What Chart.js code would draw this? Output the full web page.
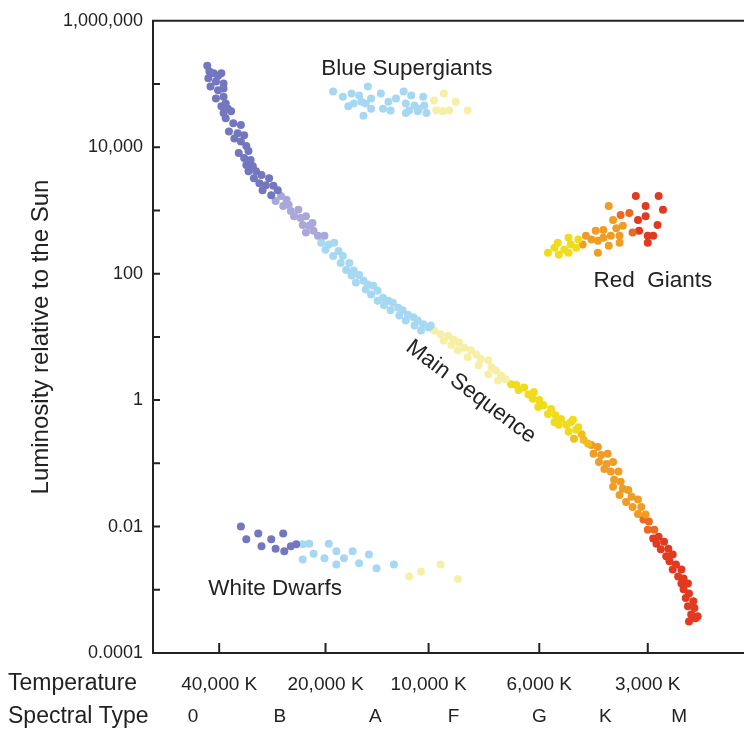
<!DOCTYPE html>
<html>
<head>
<meta charset="utf-8">
<script src="https://cdn.jsdelivr.net/npm/chart.js@4.4.1/dist/chart.umd.min.js"></script>
<style>
  html, body { margin: 0; padding: 0; background: #fff; }
</style>
</head>
<body>
<canvas id="hr" width="744" height="731"></canvas>
<script>
// x = step along the temperature axis (40,000 K = 0, one step per label)
// y = log10 of luminosity relative to the Sun
const TEMP_POS = [0.02, 1.0, 1.95, 2.97, 3.97];
const TEMP_LABELS = ['40,000 K', '20,000 K', '10,000 K', '6,000 K', '3,000 K'];
const SPECTRAL_POS = [-0.22, 0.58, 1.46, 2.18, 2.97, 3.58, 4.26];
const SPECTRAL_LABELS = ['0', 'B', 'A', 'F', 'G', 'K', 'M'];
const LUM_TICKS = [1e-4, 1e-3, 1e-2, 1e-1, 1, 10, 100, 1e3, 1e4, 1e5, 1e6];
const LUM_LABELS = ['0.0001', '', '0.01', '', '1', '', '100', '', '10,000', '', '1,000,000'];

// main sequence, hot to cool
const MS_O = [[-0.09,5.29],[-0.07,5.20],[-0.08,5.09],[-0.03,5.17],[0.01,5.13],[0.04,5.17],[-0.01,5.04],[0.06,5.01],[-0.06,4.96],[0.01,4.90],[0.06,4.93],[-0.01,4.77],[0.06,4.80],[0.08,4.69],[0.04,4.65],[0.10,4.61],[0.06,4.54],[0.13,4.57],[0.08,4.46],[0.15,4.38],[0.22,4.35],[0.11,4.25],[0.19,4.22],[0.25,4.19],[0.16,4.14],[0.22,4.09],[0.27,4.02],[0.20,3.91],[0.29,3.94],[0.25,3.83],[0.31,3.80],[0.27,3.72],[0.33,3.70],[0.29,3.62],[0.36,3.62],[0.34,3.51],[0.41,3.56],[0.48,3.51],[0.39,3.43],[0.45,3.40],[0.52,3.39],[0.42,3.32],[0.50,3.24],[0.56,3.32]];
const MS_B = [[0.59,3.23],[0.54,3.15],[0.64,3.17],[0.61,3.07],[0.66,3.09],[0.68,2.99],[0.75,3.01],[0.71,2.91],[0.77,2.88],[0.82,2.91],[0.79,2.77],[0.85,2.76],[0.88,2.80],[0.82,2.65],[0.89,2.68],[0.93,2.60],[0.99,2.60]];
const MS_A = [[0.96,2.49],[1.03,2.46],[1.08,2.49],[1.00,2.38],[1.12,2.36],[1.07,2.28],[1.16,2.28],[1.14,2.17],[1.22,2.17],[1.19,2.06],[1.26,2.05],[1.31,1.98],[1.24,1.97],[1.35,1.89],[1.28,1.86],[1.39,1.83],[1.44,1.81],[1.37,1.75],[1.48,1.73],[1.42,1.67],[1.53,1.62],[1.48,1.57],[1.58,1.57],[1.62,1.54],[1.54,1.50],[1.67,1.46],[1.60,1.42],[1.71,1.42],[1.76,1.35],[1.68,1.34],[1.81,1.31],[1.74,1.26],[1.85,1.26],[1.90,1.20],[1.82,1.18],[1.95,1.15],[1.88,1.10],[1.97,1.18]];
const MS_F = [[2.00,1.10],[2.06,1.04],[2.13,1.02],[2.09,0.94],[2.18,0.96],[2.23,0.91],[2.16,0.87],[2.28,0.83],[2.22,0.79],[2.34,0.79],[2.39,0.72],[2.31,0.68],[2.43,0.65],[2.50,0.63],[2.41,0.55],[2.53,0.52],[2.57,0.47],[2.50,0.41],[2.62,0.39],[2.66,0.33],[2.59,0.31]];
const MS_G = [[2.71,0.25],[2.76,0.24],[2.78,0.16],[2.83,0.20],[2.87,0.09],[2.92,0.13],[2.91,0.02],[2.97,0.00],[3.01,-0.08],[2.96,-0.11],[3.08,-0.14],[3.05,-0.22],[3.12,-0.24],[3.17,-0.30],[3.11,-0.35],[3.22,-0.39],[3.26,-0.35],[3.24,-0.50],[3.31,-0.47],[3.15,-0.39],[3.28,-0.31],[3.33,-0.43]];
const MS_GK = [[3.36,-0.54],[3.29,-0.61],[3.38,-0.63],[3.42,-0.69]];
const MS_K = [[3.45,-0.71],[3.51,-0.74],[3.47,-0.85],[3.54,-0.87],[3.60,-0.85],[3.52,-0.98],[3.59,-1.01],[3.65,-0.98],[3.57,-1.09],[3.63,-1.13],[3.70,-1.13],[3.66,-1.26],[3.72,-1.29],[3.65,-1.37],[3.74,-1.40],[3.79,-1.42],[3.71,-1.50],[3.82,-1.53],[3.77,-1.61],[3.88,-1.57],[3.83,-1.69],[3.91,-1.69],[3.88,-1.80],[3.95,-1.81]];
const MS_KM = [[3.93,-1.89],[3.98,-1.92],[3.97,-2.05],[4.03,-2.05]];
const MS_M = [[4.02,-2.19],[4.07,-2.16],[4.05,-2.27],[4.12,-2.24],[4.09,-2.36],[4.16,-2.35],[4.14,-2.47],[4.20,-2.44],[4.17,-2.55],[4.23,-2.60],[4.20,-2.68],[4.28,-2.68],[4.25,-2.79],[4.30,-2.82],[4.28,-2.90],[4.34,-2.90],[4.30,-2.99],[4.35,-3.06],[4.32,-3.13],[4.39,-3.18],[4.34,-3.26],[4.40,-3.29],[4.37,-3.39],[4.41,-3.45],[4.35,-3.50],[4.43,-3.42]];

// blue supergiants
const SG_A = [[1.07,4.88],[1.16,4.80],[1.24,4.85],[1.21,4.65],[1.26,4.69],[1.31,4.82],[1.33,4.72],[1.37,4.69],[1.42,4.77],[1.39,4.96],[1.42,4.61],[1.35,4.50],[1.51,4.85],[1.53,4.61],[1.58,4.72],[1.60,4.58],[1.65,4.77],[1.72,4.88],[1.74,4.69],[1.79,4.82],[1.77,4.58],[1.82,4.66],[1.86,4.61],[1.90,4.80],[1.91,4.66],[1.93,4.54],[1.85,4.57],[1.74,4.54]];
const SG_F = [[2.00,4.74],[2.02,4.58],[2.09,4.85],[2.08,4.57],[2.14,4.58],[2.20,4.72],[2.31,4.58]];

// red giants
const RG_G = [[3.05,2.33],[3.11,2.41],[3.14,2.49],[3.15,2.30],[3.20,2.38],[3.24,2.57],[3.26,2.46],[3.24,2.33],[3.33,2.54],[3.31,2.41]];
const RG_K = [[3.37,2.46],[3.40,2.60],[3.45,2.54],[3.49,2.68],[3.51,2.52],[3.51,2.33],[3.56,2.69],[3.56,2.57],[3.61,3.07],[3.61,2.44],[3.63,2.60],[3.65,2.85],[3.68,2.72],[3.71,2.60],[3.71,2.49],[3.74,2.76]];
const RG_KM = [[3.72,2.93],[3.80,2.96],[3.83,2.65]];
const RG_M = [[3.86,3.23],[3.88,2.85],[3.89,2.68],[3.95,3.07],[3.95,2.91],[3.97,2.60],[3.97,2.49],[4.02,2.60],[4.06,2.77],[4.07,3.23],[4.11,3.01]];

// white dwarfs
const WD_O = [[0.22,-2.00],[0.27,-2.20],[0.38,-2.11],[0.41,-2.31],[0.50,-2.20],[0.54,-2.35],[0.61,-2.11],[0.62,-2.39],[0.68,-2.31],[0.73,-2.28]];
const WD_A = [[0.79,-2.28],[0.85,-2.27],[0.79,-2.52],[0.89,-2.43],[0.99,-2.50],[1.03,-2.27],[1.10,-2.39],[1.17,-2.50],[1.25,-2.39],[1.10,-2.60],[1.31,-2.58],[1.40,-2.44],[1.47,-2.66],[1.63,-2.60]];
const WD_F = [[1.77,-2.79],[1.88,-2.71],[2.06,-2.60],[2.22,-2.83]];

// region names: text, x, log10 L, rotation (deg)
const NOTES = [
    ['Blue Supergiants', 0.96, 5.24, 0],
    ['Red  Giants', 3.47, 1.89, 0],
    ['White Dwarfs', -0.08, -2.98, 0],
    ['Main Sequence', 2.34, 0.13, 37],
];

const FONT = "'Liberation Sans', Arial, Helvetica, sans-serif";
const INK = '#222';

const toPoints = arr => arr.map(([t, l]) => ({ x: t, y: Math.pow(10, l) }));

function group(label, color, arr) {
    return {
        label,
        data: toPoints(arr),
        backgroundColor: color,
        borderWidth: 0,
        pointRadius: 4,
        pointHoverRadius: 4,
    };
}

// frame, inward ticks and the extra text rows
const hrDecor = {
    id: 'hrDecor',
    beforeDatasetsDraw(chart) {
        const { ctx, chartArea: a, scales: { x, y } } = chart;
        const right = chart.width;
        ctx.save();
        ctx.strokeStyle = INK;
        ctx.lineWidth = 2;
        ctx.beginPath();
        ctx.moveTo(right, a.top);
        ctx.lineTo(a.left, a.top);
        ctx.lineTo(a.left, a.bottom);
        ctx.lineTo(right, a.bottom);
        LUM_TICKS.forEach(v => {
            const py = y.getPixelForValue(v);
            ctx.moveTo(a.left, py);
            ctx.lineTo(a.left + 7, py);
        });
        TEMP_POS.forEach(v => {
            const px = x.getPixelForValue(v);
            ctx.moveTo(px, a.bottom);
            ctx.lineTo(px, a.bottom - 10);
        });
        ctx.stroke();
        ctx.restore();
    },
    afterDatasetsDraw(chart) {
        const { ctx, chartArea: a, scales: { x, y } } = chart;
        ctx.save();
        ctx.fillStyle = INK;
        ctx.textBaseline = 'middle';

        // spectral type row
        ctx.font = `19px ${FONT}`;
        ctx.textAlign = 'center';
        SPECTRAL_POS.forEach((v, i) => {
            ctx.fillText(SPECTRAL_LABELS[i], x.getPixelForValue(v), 717);
        });

        // row titles
        ctx.font = `23px ${FONT}`;
        ctx.textAlign = 'left';
        ctx.fillText('Temperature', 8, 684);
        ctx.fillText('Spectral Type', 8, 717);

        // y axis title
        ctx.save();
        ctx.translate(41, 337);
        ctx.rotate(-Math.PI / 2);
        ctx.textAlign = 'center';
        ctx.font = `24px ${FONT}`;
        ctx.fillText('Luminosity relative to the Sun', 0, 0);
        ctx.restore();

        // region names
        ctx.font = `22.5px ${FONT}`;
        NOTES.forEach(([text, t, l, rot]) => {
            const px = x.getPixelForValue(t);
            const py = y.getPixelForValue(Math.pow(10, l));
            ctx.save();
            ctx.translate(px, py);
            ctx.rotate(rot * Math.PI / 180);
            ctx.textAlign = rot ? 'center' : 'left';
            ctx.fillText(text, 0, 0);
            ctx.restore();
        });
        ctx.restore();
    }
};

new Chart(document.getElementById('hr'), {
    type: 'scatter',
    data: {
        datasets: [
            group('O', '#7377bf', [...MS_O, ...WD_O]),
            group('B', '#aaa8d8', MS_B),
            group('A', '#a7d8f2', [...MS_A, ...SG_A, ...WD_A]),
            group('F', '#f6f0a6', [...MS_F, ...SG_F, ...WD_F]),
            group('G', '#f1dc1c', [...MS_G, ...RG_G]),
            group('G-K', '#f3bd22', MS_GK),
            group('K', '#ef9d25', [...MS_K, ...RG_K]),
            group('K-M', '#ea6a24', [...MS_KM, ...RG_KM]),
            group('M', '#e23a20', [...MS_M, ...RG_M]),
        ]
    },
    options: {
        responsive: false,
        animation: false,
        events: [],
        layout: { padding: { top: 17, right: 0, left: 0, bottom: 0 } },
        plugins: {
            legend: { display: false },
            tooltip: { enabled: false },
        },
        scales: {
            x: {
                type: 'linear',
                min: -0.59,
                max: 4.82,
                grid: { display: false, drawTicks: false },
                border: { display: false },
                afterBuildTicks: s => { s.ticks = TEMP_POS.map(v => ({ value: v })); },
                afterFit: s => { s.height = 78; },
                ticks: {
                    autoSkip: false,
                    maxRotation: 0,
                    padding: 20,
                    color: INK,
                    font: { family: FONT, size: 19 },
                    callback: (v, i) => TEMP_LABELS[i],
                }
            },
            y: {
                type: 'logarithmic',
                min: 1e-4,
                max: 1e6,
                grid: { display: false, drawTicks: false },
                border: { display: false },
                afterBuildTicks: s => { s.ticks = LUM_TICKS.map(v => ({ value: v })); },
                afterFit: s => { s.width = 153; },
                ticks: {
                    autoSkip: false,
                    padding: 10,
                    color: INK,
                    font: { family: FONT, size: 18 },
                    callback: (v, i) => LUM_LABELS[i],
                }
            }
        }
    },
    plugins: [hrDecor]
});
</script>
</body>
</html>
